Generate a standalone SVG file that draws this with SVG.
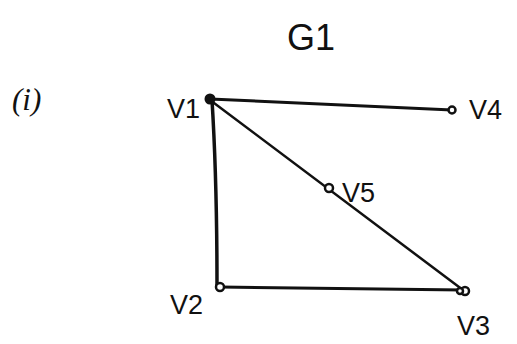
<svg xmlns="http://www.w3.org/2000/svg" width="517" height="344" viewBox="0 0 517 344">
<style>
.lbl{font-family:"Liberation Sans","DejaVu Sans",sans-serif;font-size:27px;fill:#111;}
.edge{stroke:#111;fill:none;stroke-linecap:round;}
.node{fill:#fff;stroke:#111;stroke-width:2.5;}
</style>
<rect width="517" height="344" fill="#fff"/>
<text class="lbl" x="311" y="50" text-anchor="middle" style="font-size:36px">G1</text>
<text x="12" y="110" font-family="Liberation Serif,serif" font-style="italic" font-size="31" fill="#111">(i)</text>
<g id="connectors">
<path class="edge" stroke-width="3" d="M210 99 L452 110"/>
<path class="edge" stroke-width="3.5" d="M212 100 Q217 180 217 286"/>
<path class="edge" stroke-width="2.5" d="M210 100 L463 290"/>
<path class="edge" stroke-width="3" d="M220 287 L463 290"/>
</g>
<g id="v1"><circle cx="210" cy="99" r="5.5" fill="#111"/><text class="lbl" x="167" y="118">V1</text></g>
<g id="v4"><circle class="node" cx="452" cy="110" r="3.5"/><text class="lbl" x="469" y="119">V4</text></g>
<g id="v5"><circle class="node" cx="329" cy="188" r="4"/><text class="lbl" x="342" y="202">V5</text></g>
<g id="v2"><circle class="node" cx="220" cy="287" r="4"/><text class="lbl" x="170" y="314">V2</text></g>
<g id="v3"><circle class="node" cx="465" cy="291" r="4"/><circle class="node" cx="460" cy="291" r="3" fill="none"/><text class="lbl" x="457" y="335">V3</text></g>
</svg>
